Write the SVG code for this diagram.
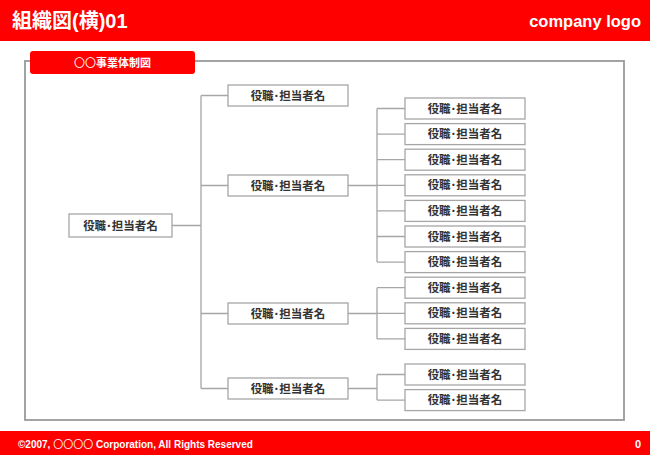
<svg xmlns="http://www.w3.org/2000/svg" width="650" height="455" viewBox="0 0 650 455">
<style>
.box{fill:#fff;stroke:#a6a6a6;stroke-width:1.3}
.lbl{font-family:"Liberation Sans","Noto Sans CJK JP",sans-serif;font-weight:bold;font-size:11.5px;fill:#333;text-anchor:middle}
.wh{font-family:"Liberation Sans","Noto Sans CJK JP",sans-serif;font-weight:bold;fill:#fff}
.cjk{font-family:"Noto Sans CJK JP",sans-serif;font-weight:normal}
.con{fill:none;stroke:#a6a6a6;stroke-width:1.3}
</style>
<rect x="0" y="0" width="650" height="41" fill="#ff0000"/>
<text class="wh" x="12" y="28" font-size="20">組織図(横)01</text>
<text class="wh" x="641" y="27" font-size="16.5" text-anchor="end">company logo</text>
<rect x="25" y="61" width="599" height="359" fill="#fff" stroke="#999" stroke-width="1.8"/>
<rect x="30" y="51" width="165" height="23" rx="3" fill="#ff0000"/>
<text class="wh" x="112.5" y="66.5" font-size="11" text-anchor="middle"><tspan class="cjk">〇〇</tspan>事業体制図</text>
<rect x="0" y="431" width="650" height="24" fill="#ff0000"/>
<text class="wh" x="18" y="447.5" font-size="10">©2007, <tspan class="cjk">〇〇〇〇</tspan> Corporation, All Rights Reserved</text>
<text class="wh" x="641" y="447.5" font-size="11" text-anchor="end">0</text>
<g id="connectors" class="con">
<path d="M172,225.5H201M201,95.5V388.5M201,95.5H228M201,185.5H228M201,313.5H228M201,388.5H228"/>
<path d="M348,185.5H377M377,108.5V262.1M377,108.5H405M377,134.1H405M377,159.7H405M377,185.3H405M377,210.9H405M377,236.5H405M377,262.1H405"/>
<path d="M348,313.5H377M377,287.7V338.9M377,287.7H405M377,313.3H405M377,338.9H405"/>
<path d="M348,388.5H377M377,374.5V400.1M377,374.5H405M377,400.1H405"/>
</g>
<g id="root"><rect class="box" x="69" y="214" width="103" height="23"/><text class="lbl" x="120.5" y="229.5">役職･担当者名</text></g>
<g id="l2-1"><rect class="box" x="228" y="85" width="120" height="21"/><text class="lbl" x="288" y="99.5">役職･担当者名</text></g>
<g id="l2-2"><rect class="box" x="228" y="175" width="120" height="21"/><text class="lbl" x="288" y="189.5">役職･担当者名</text></g>
<g id="l2-3"><rect class="box" x="228" y="303" width="120" height="21"/><text class="lbl" x="288" y="317.5">役職･担当者名</text></g>
<g id="l2-4"><rect class="box" x="228" y="378" width="120" height="21"/><text class="lbl" x="288" y="392.5">役職･担当者名</text></g>
<g id="l3-1"><rect class="box" x="405" y="98" width="120" height="21"/><text class="lbl" x="465" y="112.5">役職･担当者名</text></g>
<g id="l3-2"><rect class="box" x="405" y="123.6" width="120" height="21"/><text class="lbl" x="465" y="138.1">役職･担当者名</text></g>
<g id="l3-3"><rect class="box" x="405" y="149.2" width="120" height="21"/><text class="lbl" x="465" y="163.7">役職･担当者名</text></g>
<g id="l3-4"><rect class="box" x="405" y="174.8" width="120" height="21"/><text class="lbl" x="465" y="189.3">役職･担当者名</text></g>
<g id="l3-5"><rect class="box" x="405" y="200.4" width="120" height="21"/><text class="lbl" x="465" y="214.9">役職･担当者名</text></g>
<g id="l3-6"><rect class="box" x="405" y="226" width="120" height="21"/><text class="lbl" x="465" y="240.5">役職･担当者名</text></g>
<g id="l3-7"><rect class="box" x="405" y="251.6" width="120" height="21"/><text class="lbl" x="465" y="266.1">役職･担当者名</text></g>
<g id="l3-8"><rect class="box" x="405" y="277.2" width="120" height="21"/><text class="lbl" x="465" y="291.7">役職･担当者名</text></g>
<g id="l3-9"><rect class="box" x="405" y="302.8" width="120" height="21"/><text class="lbl" x="465" y="317.3">役職･担当者名</text></g>
<g id="l3-10"><rect class="box" x="405" y="328.4" width="120" height="21"/><text class="lbl" x="465" y="342.9">役職･担当者名</text></g>
<g id="l3-11"><rect class="box" x="405" y="364" width="120" height="21"/><text class="lbl" x="465" y="378.5">役職･担当者名</text></g>
<g id="l3-12"><rect class="box" x="405" y="389.6" width="120" height="21"/><text class="lbl" x="465" y="404.1">役職･担当者名</text></g>
</svg>
